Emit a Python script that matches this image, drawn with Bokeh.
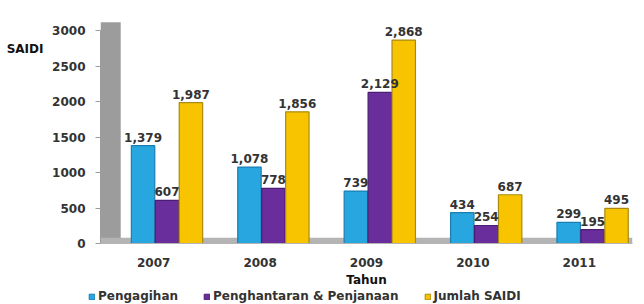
from bokeh.plotting import figure
from bokeh.layouts import column
from bokeh.models import (ColumnDataSource, FactorRange, Range1d, FixedTicker, BoxAnnotation,
                          Legend, LegendItem, LinearAxis)
from bokeh.transform import dodge
from bokeh.core.properties import value
from bokeh.embed import file_html
from bokeh.resources import INLINE

years = ["2007", "2008", "2009", "2010", "2011"]
pengagihan = [1379, 1078, 739, 434, 299]
penghantaran = [607, 778, 2129, 254, 195]
jumlah = [1987, 1856, 2868, 687, 495]
y_ticks = [0, 500, 1000, 1500, 2000, 2500, 3000]
series_names = ["Pengagihan", "Penghantaran & Penjanaan", "Jumlah SAIDI"]
y_title = "SAIDI"
x_title = "Tahun"

FONT = value("DejaVu Sans")
TXT = "#333333"

src = ColumnDataSource(dict(
    year=years,
    a=pengagihan, b=penghantaran, c=jumlah,
    la=[f"{v:,}" for v in pengagihan],
    lb=[f"{v:,}" for v in penghantaran],
    lc=[f"{v:,}" for v in jumlah],
))

p = figure(x_range=FactorRange(*years), y_range=Range1d(0, 3200),
           frame_width=532, frame_height=227, output_backend="svg", toolbar_location=None,
           y_axis_location=None, frame_align=False,
           min_border_left=100, min_border_right=4, min_border_top=16, min_border_bottom=0)
p.outline_line_color = None
p.grid.grid_line_color = None

# 3D-style wall and floor decoration
p.add_layout(BoxAnnotation(right=0.19, top=3120, fill_color="#9c9c9c", fill_alpha=1,
                           line_color=None, level="underlay"))
p.add_layout(BoxAnnotation(top=80, fill_color="#b4b4b4", fill_alpha=1,
                           line_color=None, level="underlay"))

cols = [("a", "la", -0.1, "#27a6e0", "#1a7fb0"),
        ("b", "lb", 0.125, "#6a2d9c", "#4a1d72"),
        ("c", "lc", 0.35, "#f8c400", "#a88a10")]
for (col, lab, off, fc, lc) in cols:
    p.vbar(x=dodge("year", off, range=p.x_range), top=col, width=0.22, source=src,
           fill_color=fc, line_color=lc, line_width=1.2)
for (col, lab, off, fc, lc) in cols:
    p.text(x=dodge("year", off, range=p.x_range), y=col, text=lab, source=src,
           text_align="center", text_baseline="bottom", y_offset=-4,
           text_font=FONT, text_font_style="bold", text_font_size="12px", text_color=TXT)

# y axis with ticks
ya = LinearAxis(ticker=FixedTicker(ticks=y_ticks), bounds=(0, 3000))
ya.major_label_text_font = "DejaVu Sans"
ya.major_label_text_font_style = "bold"
ya.major_label_text_font_size = "12px"
ya.major_label_text_color = TXT
ya.major_label_standoff = 10
ya.major_tick_out = 5
ya.major_tick_in = 0
ya.minor_tick_line_color = None
ya.axis_line_color = "#9c9c9c"
ya.major_tick_line_color = "#9c9c9c"
p.add_layout(ya, "left")

# y title as a horizontal label near the top of the axis
yt = LinearAxis(ticker=FixedTicker(ticks=[2740]), major_label_overrides={2740: y_title})
yt.major_label_text_font = "DejaVu Sans"
yt.major_label_text_font_style = "bold"
yt.major_label_text_font_size = "12px"
yt.major_label_text_color = "#111111"
yt.major_label_standoff = 0
yt.major_tick_line_color = None
yt.minor_tick_line_color = None
yt.axis_line_color = None
p.add_layout(yt, "left")

xa = p.xaxis[0]
xa.major_label_text_font = "DejaVu Sans"
xa.major_label_text_font_style = "bold"
xa.major_label_text_font_size = "12px"
xa.major_label_text_color = TXT
xa.major_label_standoff = 8
xa.major_tick_line_color = None
xa.axis_line_color = "#b4b4b4"
xa.axis_label = x_title
xa.axis_label_text_font = "DejaVu Sans"
xa.axis_label_text_font_style = "bold"
xa.axis_label_text_font_size = "12px"
xa.axis_label_text_color = "#111111"
xa.axis_label_standoff = 3

# legend strip as a small companion figure (its bars lie far outside its visible range)
q = figure(x_range=FactorRange(*years), y_range=Range1d(100000, 100001),
           width=640, height=15, output_backend="svg", toolbar_location=None,
           x_axis_location=None, y_axis_location=None, frame_align=False,
           min_border=0, outline_line_color=None)
q.grid.grid_line_color = None
lrs = []
for (col, lab, off, fc, lc) in cols:
    lrs.append(q.vbar(x="year", top=col, width=0.2, source=src,
                      fill_color=fc, line_color=lc, line_width=1))
legend = Legend(items=[LegendItem(label=n, renderers=[r]) for n, r in zip(series_names, lrs)],
                orientation="horizontal", location=(88, 1),
                glyph_width=7, glyph_height=7, label_standoff=3, spacing=25,
                padding=0, margin=0, border_line_color=None, background_fill_alpha=0,
                label_text_font="DejaVu Sans", label_text_font_style="bold",
                label_text_font_size="12px", label_text_color=TXT, label_height=12)
q.add_layout(legend, "center")

open("out.html", "w").write(file_html(column(p, q), INLINE))
